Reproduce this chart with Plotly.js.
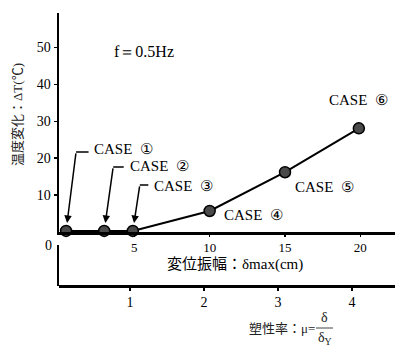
<!DOCTYPE html>
<html><head><meta charset="utf-8">
<script src="https://cdn.plot.ly/plotly-3.0.1.min.js"></script>
<style>html,body{margin:0;padding:0;background:#fff}#c{width:395px;height:346px}</style>
</head><body><div id="c"></div>
<script>
// data
const cases = ['CASE  ①','CASE  ②','CASE  ③','CASE  ④','CASE  ⑤','CASE  ⑥'];
const deltaMax = [0.47, 3.0, 4.9, 10, 15, 19.9];   // cm
const deltaT = [0.3, 0.3, 0.3, 5.7, 16.2, 28.1];   // °C
const yTicks = [10, 20, 30, 40, 50];
const xTicks = [5, 10, 15, 20];
const muTicks = [1, 2, 3, 4];

const serif = 'Liberation Serif, Times New Roman, serif';
const cjk = 'Liberation Serif, Noto Sans CJK JP, serif';

// label positions (text placement)
const labelPos = [[2.21,22.5],[4.60,17.9],[6.19,12.5],[10.84,4.6],[15.55,12.2],[17.8,35.8]];
// leader lines for the first three cases: [ax, ay, stub length]
const leaders = [[10,-79,14],[9,-64,12],[7,-46,10]];

const W = 336, H = 273, L = 59, B = 286;
const px = v => (v - L) / W;
const py = v => (B - v) / H;

const ann = [];
cases.forEach((c,i)=>{
  ann.push({x:labelPos[i][0], y:labelPos[i][1], xref:'x', yref:'y', text:c, showarrow:false,
    xanchor:'left', yanchor:'middle', font:{family:serif, size:15, color:'#000'}});
});
leaders.forEach((l,i)=>{
  ann.push({x:deltaMax[i], y:deltaT[i], xref:'x', yref:'y', text:'', showarrow:true,
    ax:l[0], ay:l[1], arrowhead:2, arrowsize:1, arrowwidth:1.5, arrowcolor:'#000', standoff:8});
  ann.push({x:deltaMax[i], y:deltaT[i], xref:'x', yref:'y', text:'', showarrow:true,
    xshift:l[0], yshift:-l[1], ax:l[2], ay:0, arrowhead:0, arrowwidth:1.5, arrowcolor:'#000'});
});
ann.push({x:3.54, y:48.8, xref:'x', yref:'y', text:'f＝0.5Hz', showarrow:false, xanchor:'left',
  yanchor:'middle', font:{family:serif, size:16, color:'#000'}});
ann.push({x:0, y:0, xref:'paper', yref:'y', text:'0', showarrow:false, xanchor:'right',
  yanchor:'middle', xshift:-5, yshift:-13, font:{family:serif, size:14, color:'#000'}});
// axis titles
ann.push({x:px(235), y:py(264), xref:'paper', yref:'paper', text:'変位振幅：δmax(cm)',
  showarrow:false, xanchor:'center', yanchor:'middle', font:{family:cjk, size:15, color:'#000'}});
ann.push({x:px(17), y:py(115), xref:'paper', yref:'paper', text:'温度変化：ΔT(℃)',
  showarrow:false, textangle:-90, xanchor:'center', yanchor:'middle',
  font:{family:cjk, size:13, color:'#222'}});
ann.push({x:px(317), y:py(328), xref:'paper', yref:'paper', text:'塑性率：μ=',
  showarrow:false, xanchor:'right', yanchor:'middle', font:{family:cjk, size:13, color:'#222'}});
ann.push({x:px(324), y:py(317), xref:'paper', yref:'paper', text:'δ',
  showarrow:false, xanchor:'center', yanchor:'middle', font:{family:serif, size:14, color:'#222'}});
ann.push({x:px(325), y:py(338), xref:'paper', yref:'paper', text:'δ<sub>Y</sub>',
  showarrow:false, xanchor:'center', yanchor:'middle', font:{family:serif, size:14, color:'#222'}});

const traces = [{
  x: deltaMax, y: deltaT, type:'scatter', mode:'lines+markers',
  line:{color:'#000', width:2},
  marker:{size:11, color:'#4a4a4a', line:{color:'#000', width:1.5}},
  cliponaxis:false, hoverinfo:'skip'
},
// helper traces so the secondary axes are drawn (no visible marks)
{x:[], y:[], xaxis:'x2', yaxis:'y', type:'scatter', mode:'markers', hoverinfo:'skip'},
{x:[], y:[], xaxis:'x', yaxis:'y2', type:'scatter', mode:'markers', hoverinfo:'skip'}];

const tickCommon = {ticks:'outside', ticklen:3, tickwidth:1.5, tickcolor:'#000',
  tickfont:{family:serif, size:14, color:'#000'}};
const layout = {
  width:395, height:346,
  margin:{l:L, r:0, t:13, b:60},
  paper_bgcolor:'#fff', plot_bgcolor:'rgba(0,0,0,0)',
  showlegend:false,
  xaxis:Object.assign({range:[0,22.3], anchor:'y', showgrid:false, zeroline:false, showline:true,
    linecolor:'#000', linewidth:2.5, tickvals:xTicks, ticktext:xTicks.map(String)}, tickCommon,
    {ticklen:2, tickfont:{family:serif, size:13, color:'#000'}}),
  yaxis:Object.assign({range:[0,59.35], domain:[py(232), 1], anchor:'x', showgrid:false, zeroline:false,
    showline:true, linecolor:'#000', linewidth:2.5, tickvals:yTicks, ticktext:yTicks.map(String)}, tickCommon),
  xaxis2:Object.assign({range:[(59-56)/74, (395-56)/74], overlaying:'x', anchor:'free', position:0, side:'bottom',
    showgrid:false, zeroline:false, showline:true, linecolor:'#000', linewidth:2.5,
    tickvals:muTicks, ticktext:muTicks.map(String)}, tickCommon),
  yaxis2:{range:[0,1], domain:[0, py(245)], anchor:'x2', showgrid:false, zeroline:false,
    showline:true, linecolor:'#000', linewidth:2, ticks:'', showticklabels:false},
  shapes:[{type:'line', xref:'paper', yref:'paper', x0:px(316), x1:px(333), y0:py(328), y1:py(328),
    line:{color:'#444', width:1}}],
  annotations: ann
};
Plotly.newPlot('c', traces, layout, {staticPlot:true, displayModeBar:false});
</script></body></html>
